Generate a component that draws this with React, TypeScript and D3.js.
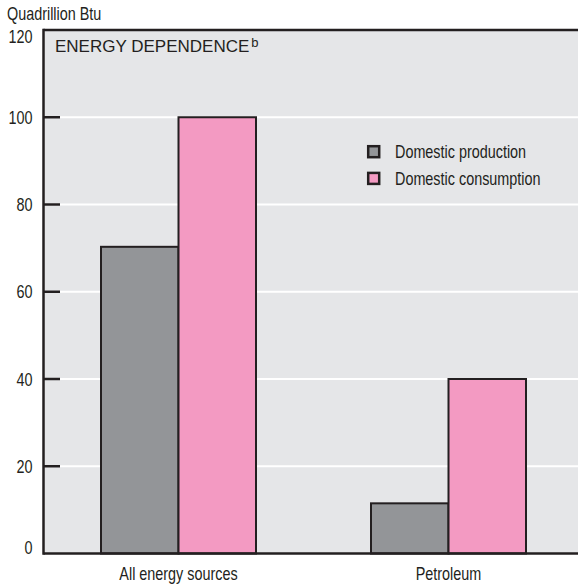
import React from "react";
import * as d3 from "d3";

const categories = ["All energy sources", "Petroleum"];
const seriesNames = ["Domestic production", "Domestic consumption"];
const production = [70.3, 11.5];
const consumption = [100, 40];
const yTicks = [0, 20, 40, 60, 80, 100, 120];
const colors = ["#939598", "#f39ac2"];

const W = 578;
const H = 586;
const M = { left: 43.5, top: 30, bottom: 553.5, right: 578 };
const sans = "'Liberation Sans', Arial, Helvetica, sans-serif";
const INK = "#231f20";

function NText(props: {
  x: number;
  y: number;
  size: number;
  anchor?: "start" | "middle" | "end";
  children: React.ReactNode;
}) {
  return (
    <text
      transform={`translate(${props.x},${props.y}) scale(0.8,1)`}
      textAnchor={props.anchor || "start"}
      fontFamily={sans}
      fontSize={props.size}
      fill={INK}
    >
      {props.children}
    </text>
  );
}

export default function App() {
  const y = d3.scaleLinear().domain([0, 120]).range([M.bottom, M.top]);
  const x0 = d3.scaleBand().domain(categories).range([M.left, 583.5]).padding(0);
  const x1 = d3
    .scaleBand()
    .domain(seriesNames)
    .range([0, x0.bandwidth()])
    .paddingInner(0)
    .paddingOuter(0.742);
  const values = [production, consumption];

  const labelY = (t: number) => (t === 0 ? y(t) : t === 120 ? y(t) + 13.3 : y(t) + 6.5);

  return (
    <div style={{ position: "absolute", left: 0, top: 0 }}>
      <svg width={W} height={H} style={{ display: "block", background: "#fff" }}>
        <rect x={M.left} y={M.top} width={M.right - M.left} height={M.bottom - M.top} fill="#e5e6e8" />
        {yTicks
          .filter((t) => t > 0 && t < 120)
          .map((t) => (
            <line key={"g" + t} x1={M.left} x2={M.right} y1={y(t)} y2={y(t)} stroke="#ffffff" strokeWidth={2} />
          ))}
        {categories.map((c, ci) =>
          seriesNames.map((s, si) => {
            const v = values[si][ci];
            const bx = (x0(c) as number) + (x1(s) as number);
            return (
              <rect
                key={c + s}
                x={bx}
                y={y(v)}
                width={x1.bandwidth()}
                height={y(0) - y(v)}
                fill={colors[si]}
                stroke={INK}
                strokeWidth={2}
              />
            );
          })
        )}
        {yTicks
          .filter((t) => t > 0 && t < 120)
          .map((t) => (
            <line key={"t" + t} x1={M.left} x2={60} y1={y(t)} y2={y(t)} stroke={INK} strokeWidth={2.5} />
          ))}
        <line x1={M.left} x2={M.right} y1={M.top} y2={M.top} stroke={INK} strokeWidth={2.5} />
        <line x1={M.left} x2={M.right} y1={M.bottom} y2={M.bottom} stroke={INK} strokeWidth={2.5} />
        <line x1={M.left} x2={M.left} y1={M.top - 1.25} y2={M.bottom + 1.25} stroke={INK} strokeWidth={2.5} />
        {yTicks.map((t) => (
          <NText key={"l" + t} x={32.5} y={labelY(t)} size={18} anchor="end">
            {t}
          </NText>
        ))}
        <NText x={7} y={20} size={18}>
          Quadrillion Btu
        </NText>
        <text x={55} y={51.5} fontFamily={sans} fontSize={17} fill={INK}>
          ENERGY DEPENDENCE
          <tspan fontSize={13} dy={-5} dx={2}>b</tspan>
        </text>
        {categories.map((c) => (
          <NText key={"c" + c} x={(x0(c) as number) + x0.bandwidth() / 2} y={580} size={18} anchor="middle">
            {c}
          </NText>
        ))}
        {seriesNames.map((s, i) => (
          <g key={"lg" + s} transform={`translate(367, ${145 + i * 26.7})`}>
            <rect x={1.2} y={1.2} width={11} height={11} fill={colors[i]} stroke={INK} strokeWidth={2.5} />
            <NText x={28} y={13} size={18}>
              {s}
            </NText>
          </g>
        ))}
      </svg>
    </div>
  );
}
